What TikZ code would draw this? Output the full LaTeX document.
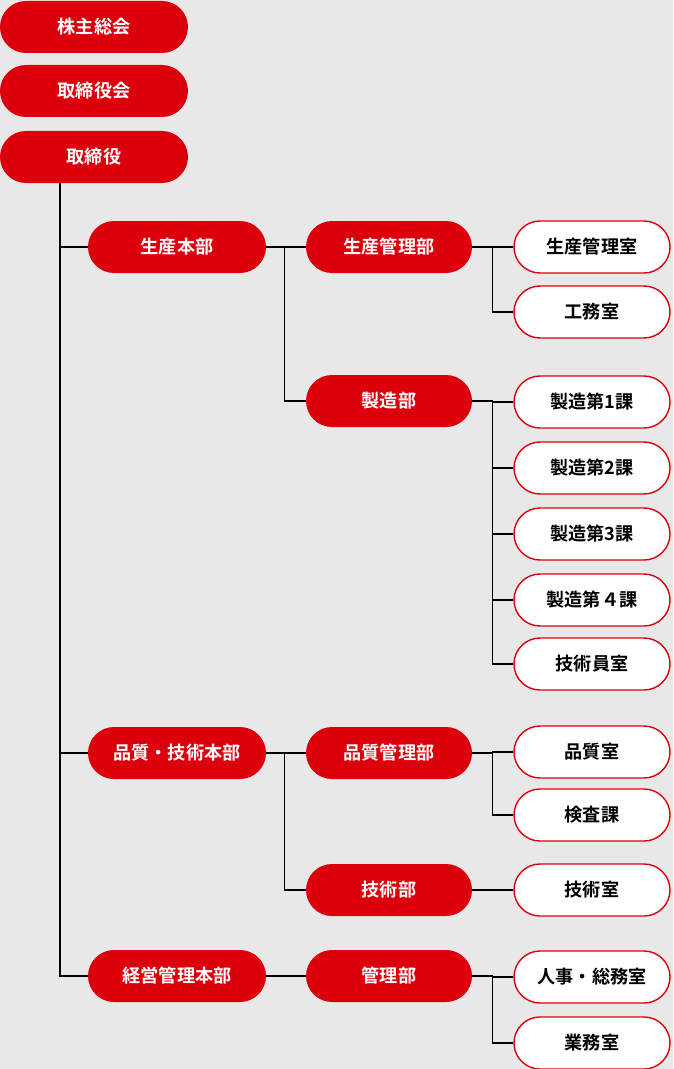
\documentclass[tikz,border=0pt]{standalone}
\usepackage{fontspec}
\setmainfont{Noto Sans CJK JP}[BoldFont={Noto Sans CJK JP Bold}]
\usepackage{tikz}
\usetikzlibrary{calc}
\definecolor{corpred}{HTML}{DC000C}
\definecolor{bggray}{HTML}{E8E8E8}
\tikzset{
  pill/.style={rounded corners=26*0.03cm, minimum height=52*0.03cm, inner sep=0pt,
    font=\fontsize{15.5}{18}\selectfont\bfseries},
  redbox/.style={pill, fill=corpred, text=white},
  whitebox/.style={pill, fill=white, draw=corpred, line width=1.2pt, text=black, minimum width=156*0.03cm},
  link/.style={line width=0.9pt}
}

\begin{document}
\begin{tikzpicture}[x=0.03cm, y=-0.03cm]
    \fill[bggray] (0,0) rectangle (673,1069);
    \useasboundingbox (0,0) rectangle (673,1069);

    % top
    \node[redbox, minimum width=188*0.03cm] (gm) at (94,27) {株主総会};
    \node[redbox, minimum width=188*0.03cm] (bd) at (94,91) {取締役会};
    \node[redbox, minimum width=188*0.03cm] (dir) at (94,157) {取締役};

    % divisions
    \node[redbox, minimum width=178*0.03cm] (prod) at (177,247) {生産本部};
    \node[redbox, minimum width=178*0.03cm] (qual) at (177,753) {品質・技術本部};
    \node[redbox, minimum width=178*0.03cm] (mgmt) at (177,976) {経営管理本部};

    % departments
    \node[redbox, minimum width=166*0.03cm] (pctl) at (389,247) {生産管理部};
    \node[redbox, minimum width=166*0.03cm] (mfg) at (389,401) {製造部};
    \node[redbox, minimum width=166*0.03cm] (qctl) at (389,753) {品質管理部};
    \node[redbox, minimum width=166*0.03cm] (tech) at (389,890) {技術部};
    \node[redbox, minimum width=166*0.03cm] (adm) at (389,976) {管理部};

    % sections
    \node[whitebox] (s1) at (592,247) {生産管理室};
    \node[whitebox] (s2) at (592,312) {工務室};
    \node[whitebox] (s3) at (592,402) {製造第1課};
    \node[whitebox] (s4) at (592,468) {製造第2課};
    \node[whitebox] (s5) at (592,534) {製造第3課};
    \node[whitebox] (s6) at (592,600) {製造第４課};
    \node[whitebox] (s7) at (592,664) {技術員室};
    \node[whitebox] (s8) at (592,752) {品質室};
    \node[whitebox] (s9) at (592,815) {検査課};
    \node[whitebox] (s10) at (592,890) {技術室};
    \node[whitebox] (s11) at (592,977) {人事・総務室};
    \node[whitebox] (s12) at (592,1043) {業務室};

    % connectors
    \coordinate (trunk) at (60,183);
    \foreach \d in {prod,qual,mgmt}
        \draw[link] (trunk) |- (\d.west);
    \foreach \p/\c in {prod/pctl,prod/mfg,qual/qctl,qual/tech,mgmt/adm}
        \draw[link] (\p.east) -- ++(18,0) |- (\c.west);
    \foreach \p/\c in {pctl/s1,pctl/s2,mfg/s3,mfg/s4,mfg/s5,mfg/s6,mfg/s7,qctl/s8,qctl/s9,tech/s10,adm/s11,adm/s12}
        \draw[link] (\p.east) -- ++(20,0) |- (\c.west);
\end{tikzpicture}
\end{document}
